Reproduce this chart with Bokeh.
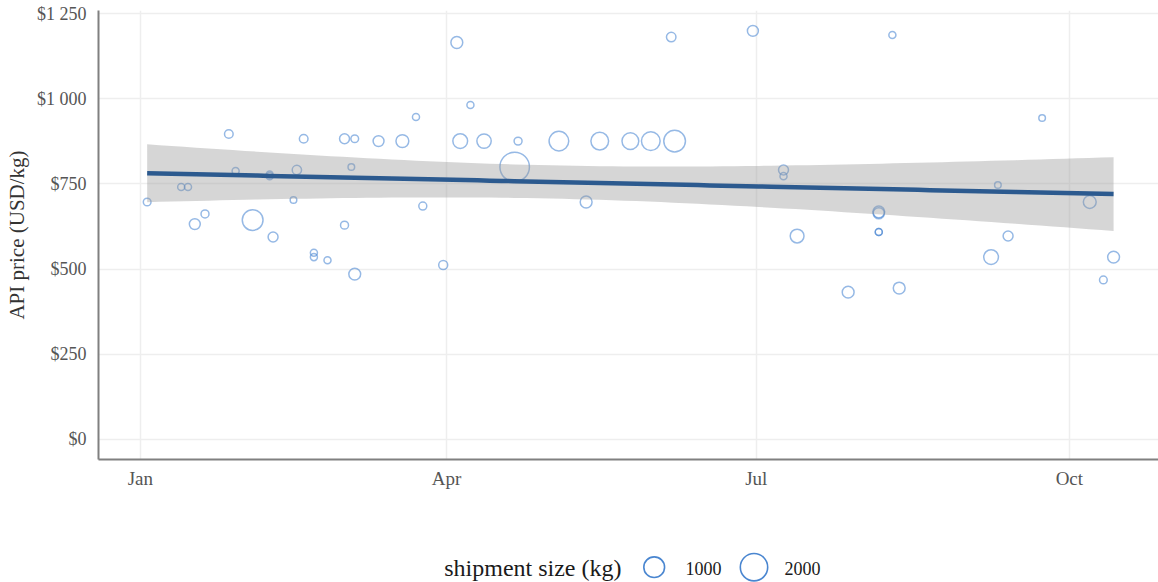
import numpy as np
import pandas as pd
from bokeh.plotting import figure
from bokeh.layouts import column
from bokeh.models import Range1d, FixedTicker
from bokeh.core.properties import value
from bokeh.embed import file_html
from bokeh.resources import INLINE

# ---------------- data ----------------
ship_dates = ["2023-01-03", "2023-01-13", "2023-01-15", "2023-01-17", "2023-01-20",
              "2023-01-27", "2023-01-29", "2023-02-03", "2023-02-08", "2023-02-08",
              "2023-02-09", "2023-02-15", "2023-02-16", "2023-02-18", "2023-02-21",
              "2023-02-21", "2023-02-25", "2023-03-02", "2023-03-02", "2023-03-04",
              "2023-03-05", "2023-03-05", "2023-03-12", "2023-03-19", "2023-03-23",
              "2023-03-25", "2023-03-31", "2023-04-04", "2023-04-08", "2023-04-05",
              "2023-04-12", "2023-04-22", "2023-04-21", "2023-05-04", "2023-05-12",
              "2023-05-16", "2023-05-25", "2023-05-31", "2023-06-07", "2023-06-06",
              "2023-06-30", "2023-07-09", "2023-07-09", "2023-07-13", "2023-07-28",
              "2023-08-06", "2023-08-06", "2023-08-06", "2023-08-06", "2023-08-10",
              "2023-08-12", "2023-09-08", "2023-09-10", "2023-09-13", "2023-09-23",
              "2023-10-07", "2023-10-11", "2023-10-14"]
price_usd_kg = [697, 741, 741, 632, 662, 897, 788, 644, 778, 773,
                594, 703, 791, 883, 548, 535, 526, 629, 883, 800,
                883, 485, 876, 876, 947, 685, 512, 1166, 982, 876,
                876, 876, 800, 876, 697, 876, 876, 876, 876, 1182,
                1200, 791, 773, 597, 432, 668, 664, 609, 609, 1188,
                444, 535, 747, 597, 944, 697, 468, 535]
shipment_kg = [70, 60, 60, 170, 75, 90, 60, 1000, 60, 60,
               130, 55, 110, 90, 60, 60, 60, 75, 130, 55,
               70, 215, 170, 270, 60, 75, 100, 215, 60, 400,
               370, 75, 2400, 870, 215, 660, 570, 760, 1120, 115,
               170, 130, 60, 330, 215, 215, 180, 60, 60, 60,
               215, 400, 55, 130, 55, 270, 70, 215]

x_tick_dates = ["2023-01-01", "2023-04-01", "2023-07-01", "2023-10-01"]
x_tick_labels = ["Jan", "Apr", "Jul", "Oct"]
y_ticks = [0, 250, 500, 750, 1000, 1250]
y_tick_labels = ["$0", "$250", "$500", "$750", "$1 000", "$1 250"]

legend_kg = [1000, 2000]
legend_labels = ["1000", "2000"]

# ---------------- styling ----------------
FONT = "Liberation Serif"
PT_COLOR = "#3f7fd0"
LINE_COLOR = "#2c5a8f"
GRID = "#eeeeee"
AX = "#808080"

SIZE_MIN_KG, SIZE_MAX_KG = 50.0, 2500.0
SIZE_MIN_PX, SIZE_SPAN_PX = 5.5, 24.5


def size_px(kg):
    kg = np.clip(np.asarray(kg, dtype=float), SIZE_MIN_KG, SIZE_MAX_KG)
    return SIZE_MIN_PX + SIZE_SPAN_PX * np.sqrt((kg - SIZE_MIN_KG) / (SIZE_MAX_KG - SIZE_MIN_KG))


dates = pd.to_datetime(ship_dates)
price = np.array(price_usd_kg, dtype=float)

# linear model fit (as geom_smooth(method = "lm")) with 95% CI
t0 = pd.Timestamp("2023-01-01")
xd = np.array((dates - t0) / pd.Timedelta(days=1), dtype=float)
n = len(xd)
b1, b0 = np.polyfit(xd, price, 1)
resid = price - (b0 + b1 * xd)
s = np.sqrt(np.sum(resid ** 2) / (n - 2))
xm = xd.mean()
sxx = np.sum((xd - xm) ** 2)
T975 = 2.003
grid_x = np.linspace(xd.min(), xd.max(), 80)
fit = b0 + b1 * grid_x
se = s * np.sqrt(1.0 / n + (grid_x - xm) ** 2 / sxx)
lo, hi = fit - T975 * se, fit + T975 * se
grid_dates = t0 + pd.to_timedelta(grid_x, unit="D")

W = 1158
LEFT = 98
x_start = t0 - pd.Timedelta(days=12.3)
x_end = t0 + pd.Timedelta(days=299.2)

p = figure(width=W, height=500, x_axis_type="datetime",
           x_range=Range1d(x_start, x_end), y_range=Range1d(-60, 1260),
           output_backend="svg", toolbar_location=None,
           min_border_left=LEFT, min_border_right=0, min_border_top=10, min_border_bottom=41)
p.outline_line_color = None
p.background_fill_color = "white"
p.border_fill_color = "white"

p.scatter(dates, price, size=size_px(shipment_kg), marker="circle",
          fill_color=None, line_color=PT_COLOR, line_alpha=0.55, line_width=1.5)
p.varea(x=grid_dates, y1=lo, y2=hi, fill_color="#999999", fill_alpha=0.4)
p.line(grid_dates, fit, line_color=LINE_COLOR, line_width=4.5)

x_tick_ms = [pd.Timestamp(d).value / 1e6 for d in x_tick_dates]
p.xaxis.ticker = FixedTicker(ticks=x_tick_ms)
p.xaxis.major_label_overrides = {t: l for t, l in zip(x_tick_ms, x_tick_labels)}
p.xgrid.ticker = FixedTicker(ticks=x_tick_ms)
p.yaxis.ticker = FixedTicker(ticks=y_ticks)
p.yaxis.major_label_overrides = {t: l for t, l in zip(y_ticks, y_tick_labels)}
p.ygrid.ticker = FixedTicker(ticks=y_ticks)

for g in (p.xgrid, p.ygrid):
    g.grid_line_color = GRID
    g.grid_line_width = 1.5

for ax in (p.xaxis, p.yaxis):
    ax.axis_line_color = AX
    ax.axis_line_width = 2
    ax.major_tick_line_color = None
    ax.minor_tick_line_color = None
    ax.major_label_text_font = FONT
    ax.major_label_text_color = "#555555"

p.xaxis.major_label_text_font_size = "19px"
p.yaxis.major_label_text_font_size = "18px"
p.xaxis.major_label_standoff = 2
p.yaxis.major_label_standoff = 6
p.yaxis.axis_label = "API price (USD/kg)"
p.yaxis.axis_label_text_font = FONT
p.yaxis.axis_label_text_font_size = "21px"
p.yaxis.axis_label_text_font_style = "normal"
p.yaxis.axis_label_text_color = "#333333"
p.yaxis.axis_label_standoff = 5

# ---------------- legend strip (x in page pixels, frame aligned with plot) ----------------
LH = 82
lf = figure(width=W, height=LH, x_range=Range1d(LEFT, W), y_range=Range1d(0, LH),
            output_backend="svg", toolbar_location=None,
            x_axis_location=None, y_axis_location=None,
            min_border_left=LEFT, min_border_right=0, min_border_top=0, min_border_bottom=0)
lf.grid.visible = False
lf.outline_line_color = None
lf.background_fill_color = "white"
lf.border_fill_color = "white"

key_x = [653.7, 753.5]
key_y = 15.3
lf.text(x=[621], y=[15], text=["shipment size (kg)"], text_font=value(FONT),
        text_font_size="24px", text_align="right", text_baseline="middle",
        text_color="#1a1a1a")
lf.scatter(key_x, [key_y] * 2, size=size_px(legend_kg), marker="circle",
           fill_color=None, line_color="#4a86d0", line_width=1.6)
lf.text(x=[685, 784], y=[14, 14], text=legend_labels, text_font=value(FONT),
        text_font_size="18px", text_align="left", text_baseline="middle",
        text_color="#1a1a1a")

layout = column(p, lf, spacing=0)
open("out.html", "w").write(file_html(layout, INLINE))
